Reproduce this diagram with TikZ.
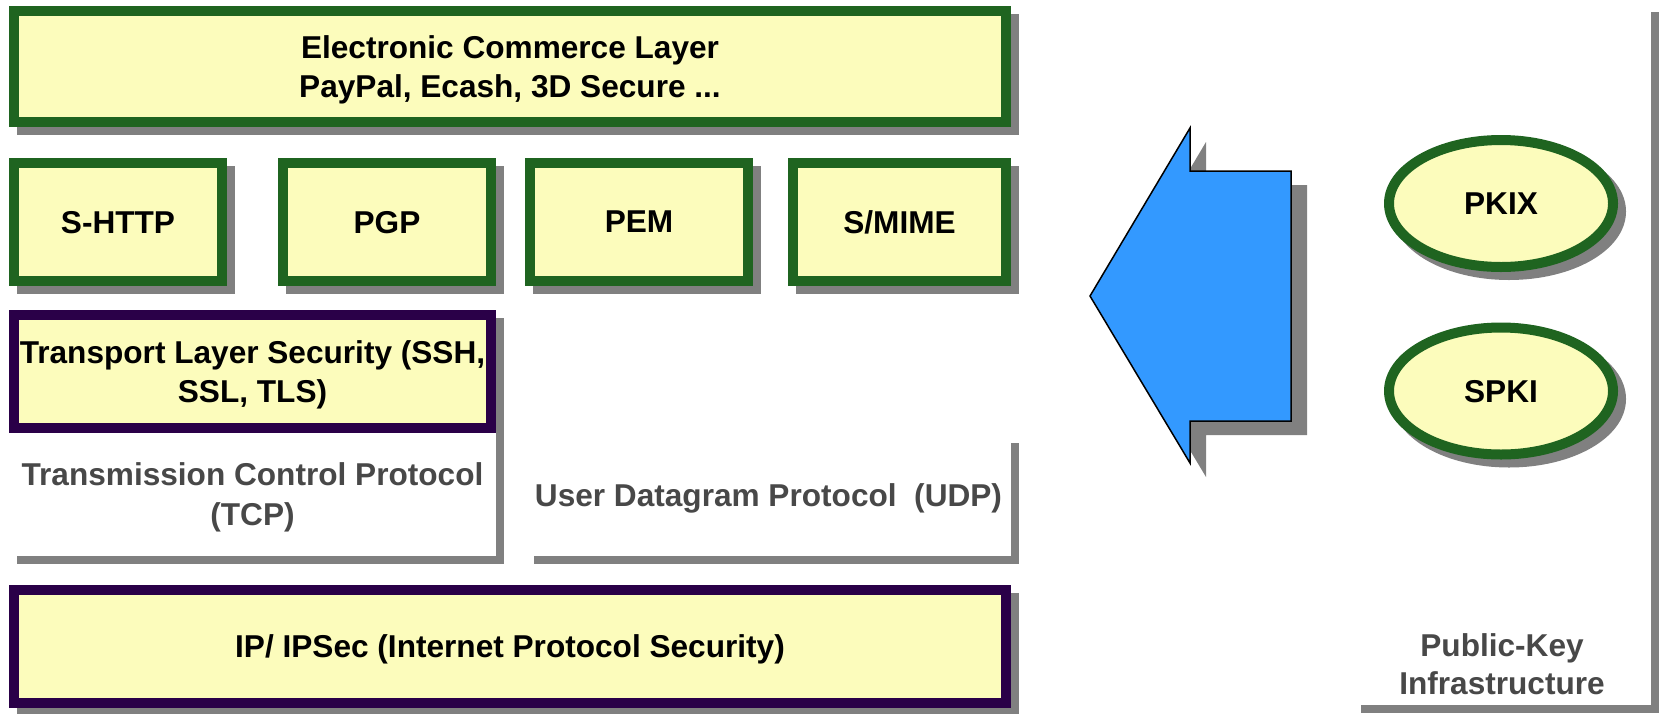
\documentclass[tikz,border=0pt]{standalone}
\usepackage{fontspec}
\setmainfont{Liberation Sans}
\usetikzlibrary{shapes.geometric,shadows}

\definecolor{layerfill}{RGB}{252,252,188}
\definecolor{layergreen}{RGB}{31,100,32}
\definecolor{layerpurple}{RGB}{42,0,72}
\definecolor{shadowgray}{RGB}{128,128,128}
\definecolor{labelgray}{RGB}{72,72,72}
\definecolor{arrowblue}{RGB}{51,153,255}

\tikzset{
	layerfont/.style={font=\fontsize{15.8}{19.5}\selectfont\bfseries},
	boxshadow/.style={general shadow={shadow xshift=4pt, shadow yshift=-4pt, fill=shadowgray, draw=shadowgray}},
	layer/.style={draw=layergreen, line width=5pt, fill=layerfill, boxshadow, inner sep=0pt, text depth=0pt, align=center, layerfont},
	netlayer/.style={layer, draw=layerpurple},
	plainlayer/.style={fill=white, general shadow={shadow xshift=4pt, shadow yshift=-4pt, fill=shadowgray}, inner sep=0pt, text depth=0pt, align=center, text=labelgray, layerfont},
	pkinode/.style={layer, ellipse, minimum width=112pt, minimum height=63.5pt},
}

\begin{document}
\begin{tikzpicture}[x=0.5pt, y=-0.5pt]
		\useasboundingbox (0,0) rectangle (1659,713);
		
		%%%%% application layers %%%%%
		\node[layer, minimum width=496pt, minimum height=55.5pt] (ecl) at (510,66.5) {Electronic Commerce Layer\\PayPal, Ecash, 3D Secure ...};
		
		\node[layer, minimum width=104pt, minimum height=59pt] (shttp) at (118,222) {S-HTTP};
		\node[layer, minimum width=104pt, minimum height=59pt] (pgp) at (387,222) {PGP};
		\node[layer, minimum width=109pt, minimum height=59pt] (pem) at (639,222) {PEM};
		\node[layer, minimum width=106.5pt, minimum height=59pt] (smime) at (899.5,222) {S/MIME};
		
		%%%%% transport %%%%%
		\node[netlayer, minimum width=238.5pt, minimum height=56.5pt] (tls) at (252.5,371.5) {Transport Layer Security (SSH,\\SSL, TLS)};
		\node[plainlayer, minimum width=243.5pt, minimum height=61.5pt, font=\fontsize{15.8}{20}\selectfont\bfseries] (tcp) at (252.5,494.5) {Transmission Control Protocol\\(TCP)};
		\node[plainlayer, minimum width=242.5pt, minimum height=60.5pt] (udp) at (768.5,495.5) {User Datagram Protocol\ \ (UDP)};
		
		%%%%% network %%%%%
		\node[netlayer, minimum width=496pt, minimum height=56.5pt] (ip) at (510,646.5) {IP/ IPSec (Internet Protocol Security)};
		
		%%%%% arrow %%%%%
		\draw[fill=arrowblue, line width=0.75pt, general shadow={shadow xshift=8pt, shadow yshift=-7pt, fill=shadowgray}]
			(1090,296) -- (1190,128) -- (1190,171) -- (1291,171) -- (1291,421) -- (1190,421) -- (1190,463) -- cycle;
		
		%%%%% PKI %%%%%
		\node[plainlayer, minimum width=149pt, minimum height=350.5pt] (pki) at (1502,354.5) {};
		\node[pkinode] (pkix) at (1501,203.5) {PKIX};
		\node[pkinode] (spki) at (1501,391) {SPKI};
		\node[text=labelgray, align=center, font=\fontsize{15.8}{19}\selectfont\bfseries] (pkitext) at (1502,664.5) {Public-Key\\Infrastructure};
		
	\end{tikzpicture}
\end{document}
